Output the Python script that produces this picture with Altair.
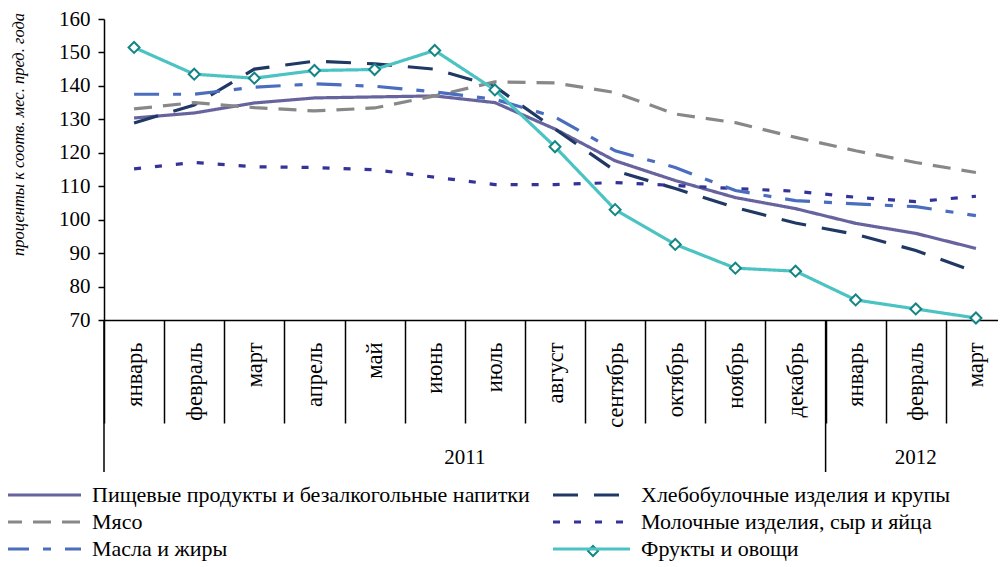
import altair as alt
import pandas as pd

months = ["январь", "февраль", "март", "апрель", "май", "июнь", "июль", "август",
          "сентябрь", "октябрь", "ноябрь", "декабрь", "январь", "февраль", "март"]
years = ["2011"] * 12 + ["2012"] * 3

series_names = [
    "Пищевые продукты и безалкогольные напитки",
    "Хлебобулочные изделия и крупы",
    "Мясо",
    "Молочные изделия, сыр и яйца",
    "Масла и жиры",
    "Фрукты и овощи",
]
food = [130.4, 131.9, 134.9, 136.4, 136.7, 137.0, 135.0, 127.1, 117.6, 111.7, 106.6, 103.3, 98.9, 95.9, 91.4]
bread = [128.9, 134.3, 145.0, 147.4, 146.6, 145.0, 139.8, 127.1, 114.6, 109.3, 103.6, 99.0, 95.6, 90.8, 84.3]
meat = [133.1, 135.0, 133.5, 132.5, 133.4, 137.0, 141.2, 140.9, 138.0, 131.6, 129.0, 124.6, 120.6, 117.1, 114.1]
dairy = [115.2, 117.1, 115.8, 115.6, 114.9, 112.7, 110.5, 110.5, 111.1, 110.2, 109.3, 108.5, 106.7, 105.4, 107.0]
oils = [137.5, 137.5, 139.6, 140.6, 139.9, 138.2, 136.0, 130.7, 120.6, 115.6, 108.7, 105.7, 104.7, 103.9, 101.2]
fruit = [151.5, 143.5, 142.3, 144.6, 144.9, 150.6, 138.8, 121.8, 103.0, 92.6, 85.5, 84.6, 76.0, 73.3, 70.6]
series_values = [food, bread, meat, dairy, oils, fruit]

y_ticks = [70, 80, 90, 100, 110, 120, 130, 140, 150, 160]
y_title = "проценты к соотв. мес. пред. года"

colors = ["#66639E", "#1F3864", "#888888", "#333399", "#4A6DBE", "#4CC3C3"]
dashes = [[1, 0], [25, 16], [18, 11], [7, 14], [25, 14, 8, 14], [1, 0]]

keys = [f"{y}|{m}" for y, m in zip(years, months)]
rows = []
for name, vals in zip(series_names, series_values):
    for i, (k, v) in enumerate(zip(keys, vals)):
        rows.append({"series": name, "key": k, "idx": i, "value": v})
df = pd.DataFrame(rows)

# year blocks
yr = pd.DataFrame({"year": years, "i": range(len(years))})
blocks = yr.groupby("year").agg(start=("i", "min"), n=("i", "count")).reset_index()
blocks["mid"] = blocks["start"] + blocks["n"] / 2
bounds = pd.DataFrame({"b": list(blocks["start"]) + [len(months)]})

FONT = "Liberation Serif"
W = 894          # drawn width of the view
H = 301
XR = 902         # x range (plot continues past the right edge, as in the reference)

x_enc = alt.X("key:O", sort=keys,
              scale=alt.Scale(domain=keys, paddingInner=0, paddingOuter=0, range=[0, XR]),
              axis=alt.Axis(title=None, labelExpr="split(datum.value, '|')[1]", labelAngle=270,
                            labelAlign="right", labelBaseline="middle", labelFont=FONT,
                            labelFontSize=22.5, labelColor="black", labelPadding=-81,
                            labelOverlap=False, tickBand="extent", tickSize=103,
                            tickColor="black", tickWidth=1.5, domainColor="black",
                            domainWidth=1.5, grid=False))
y_enc = alt.Y("value:Q", scale=alt.Scale(domain=[70, 160], nice=False, zero=False),
              axis=alt.Axis(title=y_title, values=y_ticks, format="d", labelFont=FONT,
                            labelFontSize=21, labelColor="black", labelPadding=8,
                            tickSize=6, tickColor="black", tickWidth=1.5,
                            domainColor="black", domainWidth=1.5, grid=False,
                            titleFont=FONT, titleFontSize=16.5, titleFontStyle="italic",
                            titleFontWeight="normal", titleColor="black", titleAngle=270,
                            titleX=-86, titleY=115, titleAlign="center",
                            titleBaseline="middle"))

fruit_name = series_names[-1]
line_path = "M-14.4,0L1,0"
legend = alt.Legend(
    title=None, orient="none", legendX=-39, legendY=465, columns=2, direction="horizontal",
    symbolType=line_path, symbolSize=100, symbolStrokeWidth=3, labelFont=FONT,
    labelFontSize=22, labelColor="black", labelOffset=5, labelLimit=800, rowPadding=5,
    columnPadding=17, padding=0,
)

lines = alt.Chart(df).mark_line(strokeWidth=3.2).encode(
    x=x_enc,
    y=y_enc,
    color=alt.Color("series:N", sort=series_names,
                    scale=alt.Scale(domain=series_names, range=colors), legend=legend),
    strokeDash=alt.StrokeDash("series:N", sort=series_names,
                              scale=alt.Scale(domain=series_names, range=dashes), legend=legend),
    order=alt.Order("idx:Q"),
)

points = alt.Chart(df).transform_filter(
    alt.datum.series == fruit_name
).mark_point(shape="diamond", filled=True, fill="white", stroke="#148585",
             strokeWidth=2, size=120, opacity=1).encode(x=x_enc, y=y_enc)

main = alt.layer(lines, points)

qscale = alt.Scale(domain=[0, len(months)], nice=False, zero=False, range=[0, XR])
year_rules = alt.Chart(bounds).mark_rule(color="black", strokeWidth=1.5).encode(
    x=alt.X("b:Q", scale=qscale, axis=None), y=alt.value(H), y2=alt.value(H + 152))
year_text = alt.Chart(blocks).mark_text(font=FONT, fontSize=21, color="black",
                                        baseline="middle", align="center").encode(
    x=alt.X("mid:Q", scale=qscale, axis=None), y=alt.value(H + 138), text="year:N")

# diamond marker decoration on the fruit legend entry
legend_marker = alt.Chart(pd.DataFrame({"series": [fruit_name]})).mark_point(
    shape="diamond", filled=True, fill="white", stroke="#148585", strokeWidth=2,
    size=100, opacity=1).encode(x=alt.value(489), y=alt.value(532))

chart = alt.layer(main, year_rules, year_text, legend_marker).resolve_scale(x="independent").properties(
    width=W, height=H,
    autosize=alt.AutoSizeParams(type="none"),
    padding={"left": 96, "top": 11, "right": 0, "bottom": 249},
).configure_view(stroke=None)

chart.save("out.html", embed_options={"renderer": "svg", "actions": False})
